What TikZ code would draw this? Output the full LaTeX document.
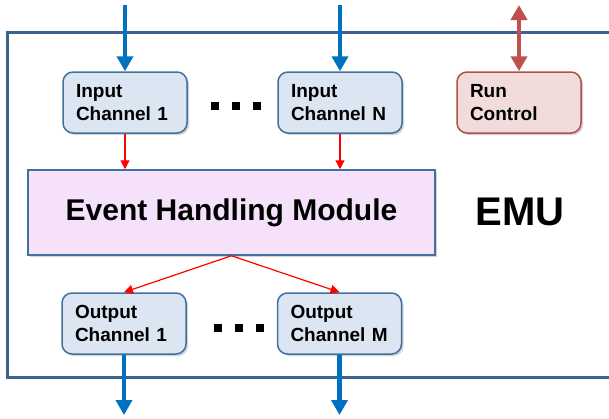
\documentclass[tikz,border=0pt]{standalone}
\usepackage{fontspec}
\setmainfont{Liberation Sans}
\usetikzlibrary{arrows.meta,shadows}

\definecolor{framecol}{HTML}{3C6390}
\definecolor{boxline}{HTML}{41719C}
\definecolor{boxfill}{HTML}{DCE6F2}
\definecolor{modfill}{HTML}{F5E1FA}
\definecolor{rcline}{HTML}{B0504C}
\definecolor{rcfill}{HTML}{F2DCDB}
\definecolor{flowblue}{HTML}{0070C0}
\definecolor{ctrlred}{HTML}{C0504D}

\tikzset{
	chan/.style={draw=boxline, fill=boxfill, line width=1.5pt, rounded corners=10pt,
		minimum height=61pt, text width=98pt, inner xsep=13pt, align=left,
		font=\fontsize{19}{23}\selectfont\bfseries,
		drop shadow={shadow xshift=2pt, shadow yshift=-2pt, opacity=0.35}},
	ctrlbox/.style={chan, draw=rcline, fill=rcfill},
	module/.style={draw=boxline, fill=modfill, line width=1.5pt,
		minimum width=407pt, minimum height=85pt,
		font=\fontsize{30}{34}\selectfont\bfseries,
		drop shadow={shadow xshift=2pt, shadow yshift=-2pt, opacity=0.35}},
	dataflow/.style={flowblue, line width=4.5pt, -{Triangle[width=16pt,length=15pt]}},
	ctrlflow/.style={ctrlred, line width=4.5pt, {Triangle[width=16pt,length=15pt]}-{Triangle[width=16pt,length=15pt]}},
	evflow/.style={red, line width=1.2pt, -{Triangle[width=9pt,length=9pt]}}
}

\begin{document}
\begin{tikzpicture}[x=1pt, y=-1pt]
	\useasboundingbox (0, 0) rectangle (609, 418);
	\clip (0, 0) rectangle (609, 418);

	% EMU frame, open to the right
	\draw[framecol, line width=3pt] (612, 32) -- (7, 32) -- (7, 377) -- (612, 377);

	% input side
	\node[chan] (in1) at (125, 102.5) {Input\\Channel 1};
	\node[chan] (inN) at (340, 102.5) {Input\\Channel N};
	\node[ctrlbox] (rc) at (519, 102.5) {Run\\Control};

	\node[module] (ehm) at (231.5, 212.5) {Event Handling Module};
	\node[font=\fontsize{40}{44}\selectfont\bfseries] (emu) at (520, 212) {EMU};

	% output side
	\node[chan] (out1) at (124, 323.5) {Output\\Channel 1};
	\node[chan] (outM) at (339.5, 323.5) {Output\\Channel M};

	% the dots between channels
	\foreach \d in {0, 1, 2} {
		\fill (211 + 21*\d, 102) rectangle ++(8, 8);
		\fill (214 + 21*\d, 324) rectangle ++(8, 8);
	}

	\coordinate (src1) at (125, 5);
	\coordinate (srcN) at (340, 5);
	\coordinate (ctl) at (519, 5);
	\coordinate (sink1) at (124, 415);
	\coordinate (sinkM) at (339.5, 415);

	\draw[dataflow] (src1) -- (in1);
	\draw[dataflow] (srcN) -- (inN);
	\draw[ctrlflow] (ctl) -- (rc);
	\draw[dataflow] (out1) -- (sink1);
	\draw[dataflow] (outM) -- (sinkM);

	% events in and out of the module
	\draw[evflow] (in1) -- (in1 |- ehm.north);
	\draw[evflow] (inN) -- (inN |- ehm.north);
	\draw[evflow] (ehm.south) -- (out1.north);
	\draw[evflow] (ehm.south) -- (outM.north);
\end{tikzpicture}
\end{document}
